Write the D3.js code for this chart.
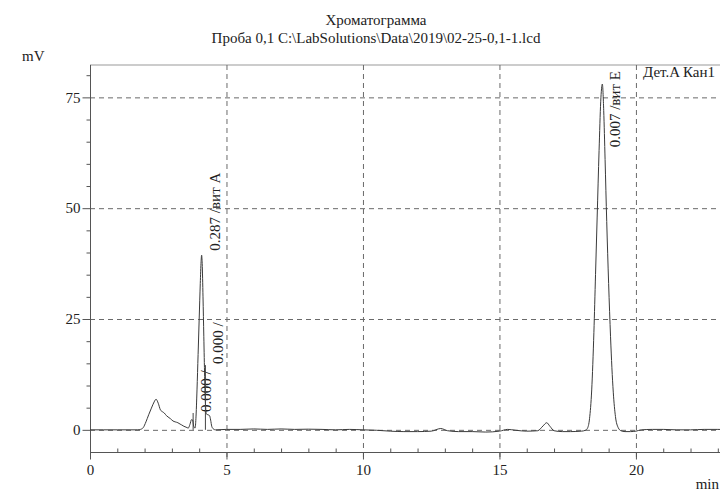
<!DOCTYPE html>
<html>
<head>
<meta charset="utf-8">
<script src="https://cdn.jsdelivr.net/npm/d3@7"></script>
<style>
  html, body { margin: 0; padding: 0; background: #fff; }
  svg { display: block; }
  text { font-family: "Liberation Serif", "Times New Roman", serif; fill: #222; }
</style>
</head>
<body>
<svg id="chart" width="720" height="492"></svg>
<script>
// Detector A, channel 1 trace: retention time (min) and signal (mV)
const traceTime = [
  0, 0.5, 1.0, 1.5, 1.65, 1.75, 1.85, 1.95, 2.05, 2.15, 2.25, 2.35, 2.42, 2.50, 2.58, 2.65,
  2.72, 2.80, 2.86, 2.95, 3.04, 3.12, 3.22, 3.30, 3.36, 3.44, 3.52, 3.60, 3.66, 3.72, 3.76,
  3.80, 3.85, 3.88, 3.92, 3.96, 4.00, 4.04, 4.07, 4.09, 4.11, 4.14, 4.17, 4.20, 4.23, 4.26,
  4.32, 4.38, 4.42, 4.46, 4.52, 4.60, 5.0, 5.5, 6.0, 6.5, 7.0, 7.5, 8.0, 8.5, 9.0, 9.5, 10.0,
  10.5, 11.0, 11.5, 12.0, 12.5, 12.85, 13.1, 13.5, 14.0, 14.5, 15.0, 15.3, 15.6, 16.0, 16.4,
  16.6, 16.73, 16.85, 17.0, 17.3, 17.6, 18.0, 18.15, 18.22, 18.30, 18.38, 18.46, 18.52, 18.58,
  18.65, 18.71, 18.77, 18.82, 18.87, 18.93, 19.00, 19.07, 19.12, 19.17, 19.25, 19.35, 19.45,
  19.6, 19.8, 20.0, 20.2, 20.6, 21.0, 21.5, 22.0, 22.5, 23.0, 23.5
];
const traceSignal = [
  0, 0, 0, 0, 0, 0, 0.1, 0.5, 1.8, 3.4, 4.9, 6.3, 6.9, 6.0, 4.5, 4.1,
  3.8, 3.2, 2.9, 2.5, 2.0, 1.8, 1.6, 1.3, 1.1, 0.8, 0.6, 0.4, 1.2, 2.3, 2.2,
  0.8, 0.4, 2.5, 9, 17, 25, 33, 38, 39.4, 37.5, 30, 21, 12, 6, 3.6,
  3.4, 3.2, 2.2, 0.8, 0.2, 0, 0.1, 0.1, 0.2, 0.1, 0.2, 0.1, 0.15, 0.1, 0.0, 0.1, 0.0,
  -0.1, -0.3, -0.4, -0.4, -0.3, 0.3, -0.2, -0.4, -0.4, -0.5, -0.3, 0.1, -0.1, -0.3, -0.2,
  0.9, 1.6, 0.8, -0.2, -0.4, -0.4, -0.3, -0.1, 0.3, 2.5, 9, 22, 35, 48,
  63, 74, 78, 72, 61, 47, 33, 21, 14, 8.5, 3, 0.5, -0.2,
  -0.4, -0.4, -0.3, 0, 0.1, 0.1, 0, 0, 0.1, 0.1, 0
];

// Integrated peaks: marker time, text, and the signal level where the text starts
const peakTimes  = [3.76, 4.09, 4.21, 18.77];
const peakLabels = ["0.000 /", "0.287 /вит A", "0.000 /", "0.007 /вит E"];
const labelLevels = [3.8, 40.2, 14.6, 63.5];
const peakMarks  = [true, false, true, false];   // vertical marker line from the baseline

const xMajorTicks = [0, 5, 10, 15, 20];
const yMajorTicks = [0, 25, 50, 75];

const titleLines = ["Хроматограмма", "Проба 0,1 C:\\LabSolutions\\Data\\2019\\02-25-0,1-1.lcd"];
const channelName = "Дет.A Кан1";

const svg = d3.select("#chart");
const plotLeft = 90, plotRight = 720, plotTop = 65, plotBottom = 452;

const x = d3.scaleLinear().domain([0, 23.08]).range([plotLeft, plotRight]);
const y = d3.scaleLinear().domain([-5, 82.3]).range([plotBottom, plotTop]);

const axisColor = "#555";
const gridColor = "#6a6a6a";

// titles
svg.selectAll("text.title").data(titleLines).join("text")
  .attr("class", "title")
  .attr("x", 376).attr("y", (d, i) => 25 + i * 18)
  .attr("text-anchor", "middle")
  .attr("font-size", 15)
  .text(d => d);

svg.append("text").attr("x", 22).attr("y", 61).attr("font-size", 15).text("mV");
svg.append("text").attr("x", 719).attr("y", 489).attr("text-anchor", "end").attr("font-size", 15).text("min");

// top border
svg.append("line")
  .attr("x1", plotLeft).attr("x2", plotRight).attr("y1", plotTop).attr("y2", plotTop)
  .attr("stroke", "#999").attr("stroke-width", 1);

// dashed grid
svg.append("g").selectAll("line").data(yMajorTicks).join("line")
  .attr("x1", plotLeft).attr("x2", plotRight)
  .attr("y1", d => y(d) + 0.5).attr("y2", d => y(d) + 0.5)
  .attr("stroke", gridColor).attr("stroke-width", 1).attr("stroke-dasharray", "5,4");
svg.append("g").selectAll("line").data(xMajorTicks.filter(d => d > 0)).join("line")
  .attr("x1", d => x(d) + 0.5).attr("x2", d => x(d) + 0.5)
  .attr("y1", plotTop).attr("y2", plotBottom + 8)
  .attr("stroke", gridColor).attr("stroke-width", 1).attr("stroke-dasharray", "5,4");

// y axis: minor ticks every 5 mV, labelled majors
const yAxis = d3.axisLeft(y)
  .tickValues(d3.range(0, 81, 5))
  .tickSize(4)
  .tickFormat(d => yMajorTicks.includes(d) ? d : "");
const gy = svg.append("g").attr("transform", `translate(${plotLeft + 0.5},0)`).call(yAxis);
gy.select(".domain").attr("d", `M0,${plotTop}V${plotBottom}`).attr("stroke", axisColor);
gy.selectAll(".tick line").attr("stroke", axisColor)
  .attr("x2", d => yMajorTicks.includes(d) ? -8 : -4);
gy.selectAll(".tick text")
  .attr("x", -10).attr("font-size", 15)
  .attr("font-family", "Liberation Serif, serif").attr("fill", "#222");

// x axis: minor ticks every minute (pointing inward), labelled majors
const xAxis = d3.axisBottom(x)
  .tickValues(d3.range(0, 24, 1))
  .tickSize(4)
  .tickFormat(d => xMajorTicks.includes(d) ? d : "");
const gx = svg.append("g").attr("transform", `translate(0,${plotBottom + 0.5})`).call(xAxis);
gx.select(".domain").attr("d", `M${plotLeft},0H${plotRight}`).attr("stroke", axisColor);
gx.selectAll(".tick line").attr("stroke", axisColor)
  .attr("y2", d => xMajorTicks.includes(d) ? 7 : -4);
gx.selectAll(".tick text")
  .attr("y", 12).attr("font-size", 15)
  .attr("font-family", "Liberation Serif, serif").attr("fill", "#222");

// chromatogram trace
const trace = traceTime.map((t, i) => [t, traceSignal[i]]);
svg.append("path")
  .datum(trace)
  .attr("fill", "none")
  .attr("stroke", "#3a3a3a")
  .attr("stroke-width", 1)
  .attr("stroke-linejoin", "round")
  .attr("d", d3.line().x(d => x(d[0])).y(d => y(d[1])).curve(d3.curveMonotoneX));

// peak markers and rotated peak labels
peakTimes.forEach((t, i) => {
  if (peakMarks[i]) {
    svg.append("line")
      .attr("x1", x(t) + 0.5).attr("x2", x(t) + 0.5)
      .attr("y1", y(0)).attr("y2", y(labelLevels[i]))
      .attr("stroke", "#444").attr("stroke-width", 1);
  }
  svg.append("text")
    .attr("transform", `translate(${x(t) + 18},${y(labelLevels[i]) - 1}) rotate(-90)`)
    .attr("font-size", 15)
    .text(peakLabels[i]);
});

// channel name
svg.append("text").attr("x", 643).attr("y", 77).attr("font-size", 15).text(channelName);
</script>
</body>
</html>
